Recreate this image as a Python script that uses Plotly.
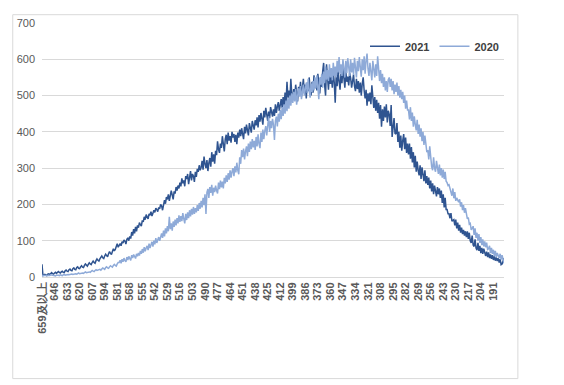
import plotly.graph_objects as go

# Categories: score bands from "659及以上" down to 180
categories = ["659及以上"] + [str(s) for s in range(658, 179, -1)]

counts_2021 = [
    35,4,5,7,6,4,8,9,7,10,12,9,8,11,13,10,12,15,13,11,
    14,16,13,12,17,19,16,15,20,22,18,17,23,25,21,20,26,28,24,23,
    28,31,27,26,32,36,33,30,35,39,36,34,40,44,40,38,45,50,46,44,
    50,54,58,53,51,58,63,59,56,64,70,65,62,70,78,72,76,84,92,82,
    88,92,86,97,94,102,99,91,104,108,100,112,106,124,114,132,120,138,126,142,
    136,150,144,140,156,152,166,158,172,164,160,174,170,180,168,176,184,178,190,186,
    180,192,188,200,196,184,206,212,202,220,214,228,210,224,238,226,214,236,230,248,
    238,252,244,260,250,272,258,266,250,278,270,284,256,274,292,266,284,278,262,290,
    276,298,290,308,294,302,320,296,332,312,300,322,292,314,328,304,344,318,338,312,
    348,336,374,352,342,368,356,388,364,346,380,392,366,398,376,388,370,400,384,394,
    372,392,366,398,384,406,388,410,394,380,414,396,420,404,390,424,410,398,430,414,
    406,432,418,440,412,446,428,452,436,420,458,440,466,444,430,456,438,468,448,442,
    462,444,476,452,470,482,458,478,490,466,496,472,508,478,538,494,514,486,546,502,
    490,518,496,530,504,484,524,508,538,498,522,546,506,530,492,536,512,550,518,500,
    538,508,556,520,546,514,560,528,506,550,524,566,590,530,500,586,538,516,558,532,
    552,522,566,536,480,556,526,570,540,516,560,534,576,542,522,566,538,552,528,562,
    548,522,542,558,526,512,546,518,540,508,536,500,532,550,514,492,516,472,506,484,
    508,476,528,490,466,496,458,488,452,480,436,474,414,462,430,470,440,476,426,458,
    448,416,474,386,414,438,396,394,424,372,400,356,390,348,376,394,352,384,342,368,
    338,368,326,358,316,344,302,334,290,318,294,280,308,270,302,274,264,294,258,278,
    254,274,244,266,236,258,228,252,234,222,248,228,244,218,238,204,228,192,218,186,
    186,174,174,162,176,154,156,158,142,158,134,150,128,144,122,136,118,130,114,126,
    110,126,105,122,100,94,114,88,84,104,80,74,94,72,86,66,80,64,78,62,
    58,70,55,68,52,62,50,60,47,57,45,54,44,52,40,49,34,36,44,52,
]

counts_2020 = [
    5,3,4,4,3,5,4,3,4,6,5,4,5,4,3,5,6,5,4,6,
    5,4,6,7,5,6,8,7,6,7,9,8,7,8,10,9,8,10,11,9,
    10,12,11,10,13,14,12,13,15,14,13,16,18,16,15,18,20,18,19,22,
    21,19,22,25,23,21,26,28,25,24,28,31,29,27,32,35,32,30,36,40,
    40,46,38,49,42,52,45,42,55,47,57,49,46,60,52,62,55,51,64,57,
    66,59,72,64,77,67,82,71,80,86,74,92,80,90,97,84,100,90,107,94,
    102,110,100,116,120,108,128,112,134,120,140,126,166,132,148,128,153,138,158,142,
    162,148,170,152,168,154,176,160,148,174,157,178,162,184,167,188,172,193,174,190,
    178,198,182,204,188,210,192,218,198,228,174,233,243,218,248,232,254,224,246,234,
    252,238,230,260,242,266,247,263,244,273,258,280,262,286,268,294,274,290,300,278,
    305,288,315,294,283,330,312,350,330,354,324,346,360,333,368,345,373,352,380,357,
    375,350,386,360,393,367,355,398,372,406,380,403,416,390,430,443,400,430,410,436,
    420,378,430,442,415,450,428,460,435,468,444,476,450,486,457,493,464,500,472,506,
    480,510,484,518,475,503,520,497,526,490,516,530,500,523,536,507,546,514,494,533,
    510,540,514,550,520,556,524,490,550,530,560,522,566,534,580,544,570,540,586,550,
    576,542,590,554,580,550,596,564,606,560,586,554,600,570,550,596,562,603,572,554,
    600,564,590,557,604,572,550,596,567,606,574,552,600,570,608,560,596,616,574,554,
    590,560,542,596,564,550,586,554,608,570,540,570,534,560,524,550,514,540,510,544,
    550,524,546,514,540,504,530,510,536,500,526,494,516,490,510,480,500,464,486,460,
    460,434,468,430,453,414,443,420,404,433,394,420,387,410,374,400,364,390,354,344,
    350,324,360,314,304,294,330,300,290,320,294,284,310,280,300,274,296,270,290,264,
    260,252,254,244,238,224,244,217,234,210,218,212,206,214,194,206,184,198,177,190,
    178,160,164,146,148,130,134,140,116,134,108,122,100,118,94,110,88,104,84,98,
    82,95,76,78,86,66,80,64,75,58,72,55,66,58,52,64,48,60,42,38,
]

tick_labels = categories[::13]

fig = go.Figure()
fig.add_trace(go.Scatter(x=categories, y=counts_2021, mode="lines", name="<b>2021</b>",
                         line=dict(color="#2F5490", width=1.5)))
fig.add_trace(go.Scatter(x=categories, y=counts_2020, mode="lines", name="<b>2020</b>",
                         line=dict(color="#8EAAD8", width=1.5)))

# page has an 8px body margin, so the figure is offset by (8, 8)
W, H = 556, 377
L, T, PW, PH = 30, 9, 466, 260

fig.update_layout(
    width=W, height=H,
    margin=dict(l=L, r=W - L - PW, t=T, b=H - T - PH),
    paper_bgcolor="white", plot_bgcolor="white",
    font=dict(family="Liberation Sans, Arial, sans-serif", color="#595959", size=11),
    showlegend=True,
    legend=dict(orientation="h", x=1.0, xanchor="right", y=0.908, yanchor="middle",
                font=dict(size=11, color="#404040", family="Liberation Sans, Arial, sans-serif"),
                bgcolor="rgba(0,0,0,0)", tracegroupgap=0),
    xaxis=dict(type="category", tickmode="array", tickvals=tick_labels,
               ticktext=["<b>%s</b>" % t for t in tick_labels],
               tickangle=-90, showgrid=False, ticks="", showline=True,
               linecolor="#D9D9D9", linewidth=1,
               tickfont=dict(size=11, color="#595959"), range=[0, len(categories) - 1]),
    yaxis=dict(range=[0, 700], dtick=100, showgrid=True, gridcolor="#D9D9D9",
               gridwidth=1, zeroline=False, ticks="", ticklabelstandoff=6,
               tickfont=dict(size=11, color="#595959")),
    shapes=[dict(type="rect", xref="paper", yref="paper",
                 x0=(0.5 - L) / PW, x1=(510 - L) / PW,
                 y0=(T + PH - 373) / PH, y1=(T + PH - 0.5) / PH,
                 line=dict(color="#D9D9D9", width=1), fillcolor="rgba(0,0,0,0)",
                 layer="below")],
)

fig.write_html("out.html")
